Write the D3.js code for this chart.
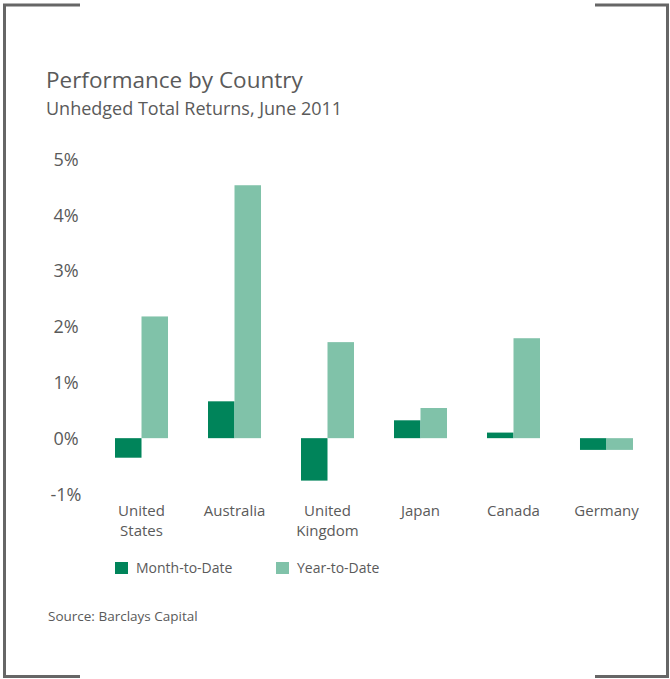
<!DOCTYPE html>
<html>
<head>
<meta charset="utf-8">
<script src="https://cdn.jsdelivr.net/npm/d3@7/dist/d3.min.js"></script>
<style>
  html, body { margin: 0; padding: 0; background: #fff; }
  svg { display: block; }
  text { font-family: "Open Sans", "Noto Sans", sans-serif; fill: #5a5a5a; }
</style>
</head>
<body>
<svg id="chart" width="670" height="679"></svg>
<script>
// Unhedged total returns by country, June 2011 (percent)
const countries = [["United", "States"], ["Australia"], ["United", "Kingdom"], ["Japan"], ["Canada"], ["Germany"]];
const monthToDate = [-0.35, 0.66, -0.76, 0.32, 0.10, -0.21];
const yearToDate  = [2.18, 4.53, 1.72, 0.54, 1.79, -0.21];
const seriesNames = ["Month-to-Date", "Year-to-Date"];
const yTicks = [-1, 0, 1, 2, 3, 4, 5];

const colors = ["#00845a", "#80c2a9"];

const svg = d3.select("#chart");

// Corner-bracket frame: full-height sides, short top and bottom stubs
const frame = svg.append("g").attr("stroke", "#666").attr("stroke-width", 3).attr("fill", "none");
frame.append("path").attr("d", "M80,5 H4.5 V676.5 H80");
frame.append("path").attr("d", "M595,5 H667.5 V676.5 H595");

// Titles
svg.append("text").attr("x", 46).attr("y", 88).attr("font-size", 22.5).text("Performance by Country");
svg.append("text").attr("x", 46).attr("y", 115).attr("font-size", 18).text("Unhedged Total Returns, June 2011");

// Scales
const y = d3.scaleLinear().domain([-1, 5]).range([494, 159]);
const x0 = d3.scaleBand().domain(d3.range(countries.length)).range([115, 633]).paddingInner(0.43).paddingOuter(0);
const x1 = d3.scaleBand().domain([0, 1]).range([0, x0.bandwidth()]);

// Y axis labels only (no line, no ticks)
const yAxis = d3.axisLeft(y).tickValues(yTicks).tickFormat(d => d + "%").tickSize(0).tickPadding(0);
const yg = svg.append("g").attr("transform", "translate(66,0)").call(yAxis);
yg.select(".domain").remove();
yg.selectAll("text").attr("text-anchor", "middle").attr("font-size", 18).attr("fill", "#5a5a5a")
  .attr("font-family", "\"Open Sans\", sans-serif").attr("dy", "0.35em");

// Bars
const groups = svg.append("g").selectAll("g").data(countries).join("g")
  .attr("transform", (d, i) => `translate(${x0(i)},0)`);
groups.each(function (d, i) {
  const vals = [monthToDate[i], yearToDate[i]];
  d3.select(this).selectAll("rect").data(vals).join("rect")
    .attr("x", (v, j) => x1(j))
    .attr("width", x1.bandwidth())
    .attr("y", v => Math.min(y(v), y(0)))
    .attr("height", v => Math.abs(y(v) - y(0)))
    .attr("fill", (v, j) => colors[j]);
});

// Category labels, one text per line
groups.each(function (d) {
  d3.select(this).selectAll("text.cat").data(d).join("text")
    .attr("class", "cat")
    .attr("x", x0.bandwidth() / 2)
    .attr("y", (t, k) => 516 + k * 20)
    .attr("text-anchor", "middle")
    .attr("font-size", 15)
    .text(t => t);
});

// Legend
const legendX = [115, 276];
const lg = svg.append("g").selectAll("g").data(seriesNames).join("g")
  .attr("transform", (d, i) => `translate(${legendX[i]},562)`);
lg.append("rect").attr("width", 13).attr("height", 12).attr("fill", (d, i) => colors[i]);
lg.append("text").attr("x", 21).attr("y", 11).attr("font-size", 14).text(d => d);

// Source
svg.append("text").attr("x", 48).attr("y", 621).attr("font-size", 13.5).text("Source: Barclays Capital");
</script>
</body>
</html>
